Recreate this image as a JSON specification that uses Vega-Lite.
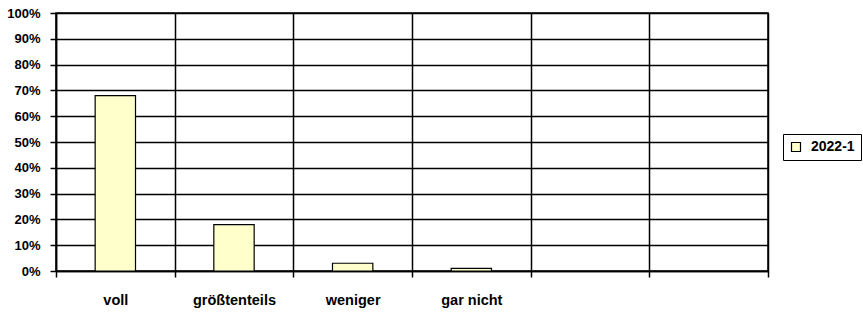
{
  "$schema": "https://vega.github.io/schema/vega-lite/v6.json",
  "width": 712,
  "height": 258,
  "autosize": {"type": "none"},
  "padding": {"left": 56, "top": 13, "right": 95, "bottom": 43},
  "background": "white",
  "config": {
    "view": {"stroke": "black", "strokeWidth": 1.5},
    "font": "Liberation Sans"
  },
  "data": {
    "values": [
      {"Kategorie": "voll", "Anteil": 0.68, "Serie": "2022-1"},
      {"Kategorie": "größtenteils", "Anteil": 0.18, "Serie": "2022-1"},
      {"Kategorie": "weniger", "Anteil": 0.03, "Serie": "2022-1"},
      {"Kategorie": "gar nicht", "Anteil": 0.01, "Serie": "2022-1"}
    ]
  },
  "mark": {"type": "bar", "stroke": "black", "strokeWidth": 1.2, "width": {"band": 0.34}},
  "encoding": {
    "x": {
      "field": "Kategorie",
      "type": "nominal",
      "sort": null,
      "scale": {
        "domain": ["voll", "größtenteils", "weniger", "gar nicht", "e5", "e6"],
        "paddingInner": 0,
        "paddingOuter": 0
      },
      "axis": {
        "title": null,
        "labelAngle": 0,
        "labelExpr": "datum.label == 'e5' || datum.label == 'e6' ? '' : datum.label",
        "labelFont": "Liberation Sans",
        "labelFontSize": 14.5,
        "labelFontWeight": "bold",
        "labelColor": "black",
        "labelPadding": 16,
        "tickBand": "extent",
        "grid": true,
        "gridColor": "black",
        "gridOpacity": 1,
        "gridWidth": 1.5,
        "tickColor": "black",
        "tickWidth": 1.5,
        "tickSize": 6,
        "domainColor": "black",
        "domainWidth": 1.5
      }
    },
    "y": {
      "field": "Anteil",
      "type": "quantitative",
      "scale": {"domain": [0, 1], "nice": false},
      "axis": {
        "title": null,
        "format": ".0%",
        "values": [0, 0.1, 0.2, 0.3, 0.4, 0.5, 0.6, 0.7, 0.8, 0.9, 1],
        "labelFont": "Liberation Sans",
        "labelFontSize": 13,
        "labelFontWeight": "bold",
        "labelColor": "black",
        "labelPadding": 10,
        "grid": true,
        "gridColor": "black",
        "gridOpacity": 1,
        "gridWidth": 1.5,
        "tickColor": "black",
        "tickWidth": 1.5,
        "tickSize": 6,
        "domainColor": "black",
        "domainWidth": 1.5
      }
    },
    "color": {
      "field": "Serie",
      "type": "nominal",
      "scale": {"range": ["#FFFFCC"]},
      "legend": {
        "title": null,
        "orient": "none",
        "legendX": 727,
        "legendY": 121,
        "symbolType": "square",
        "symbolStrokeColor": "black",
        "symbolStrokeWidth": 1.2,
        "symbolSize": 81,
        "symbolOpacity": 1,
        "labelFont": "Liberation Sans",
        "labelFontSize": 14,
        "labelFontWeight": "bold",
        "labelColor": "black",
        "labelOffset": 8,
        "strokeColor": "black",
        "padding": 6
      }
    }
  }
}
